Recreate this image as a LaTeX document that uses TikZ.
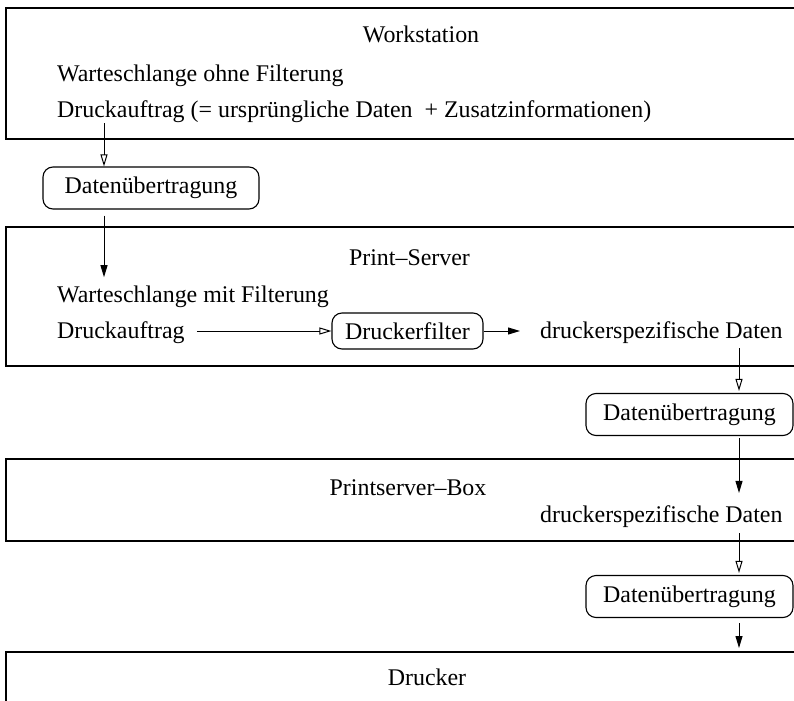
\documentclass[tikz,border=0pt]{standalone}
\usepackage{fontspec}
\setmainfont{Liberation Serif}
\usetikzlibrary{arrows.meta}
\begin{document}
\begin{tikzpicture}[x=1bp,y=-1bp,
  every node/.style={font=\fontsize{24}{28}\selectfont, inner sep=0pt},
  frame/.style={draw, line width=1.2bp},
  txt/.style={anchor=base west},
  title/.style={anchor=base},
  transfer/.style={draw, rounded corners=10bp, line width=1.1bp, minimum height=42bp},
  hollow/.style={draw, line width=1bp, -{Triangle[open, length=12bp, width=7bp]}},
  filled/.style={draw, line width=1bp, -{Triangle[length=12bp, width=7bp]}}
]
\useasboundingbox (0,0) rectangle (794,701);

% layer frames, open to the right
\draw[frame] (800,8) -- (6,8) -- (6,139) -- (800,139);
\draw[frame] (800,227) -- (6,227) -- (6,366) -- (800,366);
\draw[frame] (800,459) -- (6,459) -- (6,541) -- (800,541);
\draw[frame] (800,652) -- (6,652) -- (6,710);

% Workstation
\node[title] (ws) at (421,43) {Workstation};
\node[txt] (q1) at (57,82) {Warteschlange ohne Filterung};
\node[txt] (job1) at (57,118) {Druckauftrag (= ursprüngliche Daten\ \ + Zusatzinformationen)};
\node[transfer, minimum width=216bp] (dt1) at (151,188) {Datenübertragung};

% Print-Server
\node[title] (ps) at (409.5,265) {Print–Server};
\node[txt] (q2) at (57,302) {Warteschlange mit Filterung};
\node[txt] (job2) at (57,338) {Druckauftrag};
\node[draw, rounded corners=10bp, line width=1.1bp, minimum width=151bp, minimum height=36bp] (filt) at (407.5,331) {Druckerfilter};
\node[txt] (data2) at (540,338) {druckerspezifische Daten};
\node[transfer, minimum width=207bp] (dt2) at (689.5,414.5) {Datenübertragung};

% Printserver-Box
\node[title] (psb) at (408,495) {Printserver–Box};
\node[txt] (data3) at (540,522) {druckerspezifische Daten};
\node[transfer, minimum width=207bp] (dt3) at (689.5,596.5) {Datenübertragung};

% Drucker
\node[title] (dr) at (427,685) {Drucker};

% connector columns
\coordinate (a1x) at (104,0);
\coordinate (colx) at (739,0);
\coordinate (drtop) at (739,652);

\draw[hollow] (job1.south -| a1x) -- (dt1.north -| a1x);
\draw[filled, shorten <=6bp, shorten >=8bp] (dt1.south -| a1x) -- (q2.north -| a1x);
\draw[hollow, shorten <=12bp] (job2.east |- filt) -- (filt.west);
\draw[filled, shorten >=20bp] (filt.east) -- (data2.west |- filt);
\draw[hollow, shorten <=5bp, shorten >=2bp] (data2.south -| colx) -- (dt2.north -| colx);
\draw[filled, shorten <=2bp, shorten >=12bp] (dt2.south -| colx) -- (data3.north -| colx);
\draw[hollow, shorten <=6bp, shorten >=2bp] (data3.south -| colx) -- (dt3.north -| colx);
\draw[filled, shorten <=5bp, shorten >=4bp] (dt3.south -| colx) -- (drtop);
\end{tikzpicture}
\end{document}
